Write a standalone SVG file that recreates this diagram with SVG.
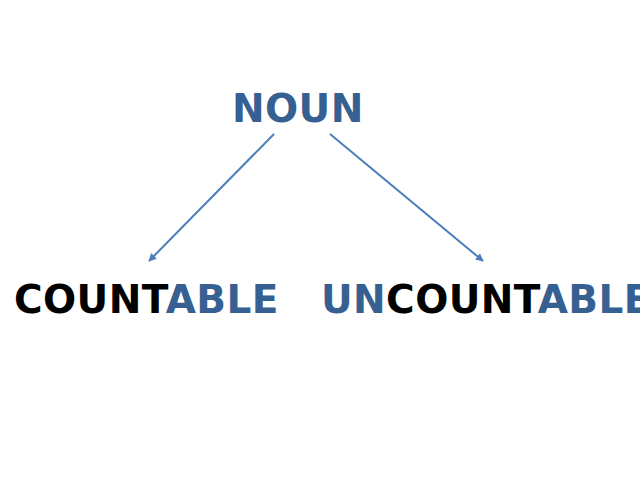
<svg xmlns="http://www.w3.org/2000/svg" width="640" height="480" viewBox="0 0 640 480">
<style>
text{font-family:"DejaVu Sans",sans-serif;font-weight:bold;font-size:39px;letter-spacing:0.4px}
.b{fill:#376092}
.k{fill:#000}
.c{stroke:#4a7ebb;stroke-width:2;fill:none}
</style>
<defs>
<marker id="ah" viewBox="0 0 10 10" refX="9" refY="5" markerWidth="4" markerHeight="4" orient="auto" markerUnits="strokeWidth">
<path d="M0,0 L10,5 L0,10 z" fill="#4a7ebb"/>
</marker>
</defs>
<rect width="640" height="480" fill="#fff"/>
<g id="connectors">
<line class="c" x1="274" y1="134" x2="149" y2="261" marker-end="url(#ah)"/>
<line class="c" x1="330" y1="134" x2="483" y2="261" marker-end="url(#ah)"/>
</g>
<g id="noun"><text x="232" y="122" class="b">NOUN</text></g>
<g id="countable"><text x="14" y="313"><tspan class="k">COUNT</tspan><tspan class="b">ABLE</tspan></text></g>
<g id="uncountable"><text x="321" y="313"><tspan class="b">UN</tspan><tspan class="k">COUNT</tspan><tspan class="b">ABLE</tspan></text></g>
</svg>
